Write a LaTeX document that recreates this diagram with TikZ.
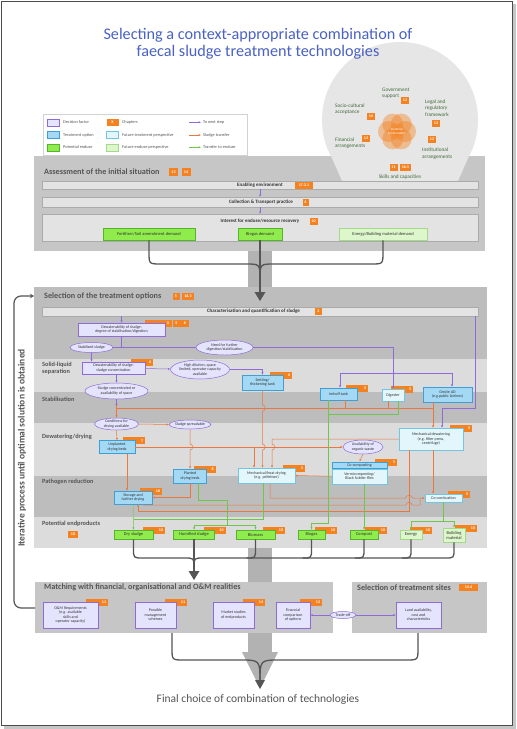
\documentclass[tikz,border=0pt]{standalone}
\usepackage{fontspec}
\setmainfont{Carlito}
\usetikzlibrary{calc,shapes.geometric,arrows.meta}
\pgfdeclarelayer{bg}\pgfdeclarelayer{tabs}
\pgfsetlayers{bg,tabs,main}
\definecolor{secc}{HTML}{C6C6C6}
\definecolor{bandl}{HTML}{DCDCDC}
\definecolor{bandd}{HTML}{BDBDBD}
\definecolor{barc}{HTML}{E3E3E3}
\definecolor{barb}{HTML}{ABABAB}
\definecolor{chapc}{HTML}{F58220}
\definecolor{lavf}{HTML}{E4E4FF}
\definecolor{purp}{HTML}{8E6BD6}
\definecolor{tof}{HTML}{A3D9F5}
\definecolor{tob}{HTML}{3C9FD6}
\definecolor{ftf}{HTML}{E2F6FB}
\definecolor{ftb}{HTML}{72C6E2}
\definecolor{euf}{HTML}{90EC4C}
\definecolor{eub}{HTML}{52B52C}
\definecolor{fef}{HTML}{DDF6CB}
\definecolor{feb}{HTML}{A4D88A}
\definecolor{orl}{HTML}{E9773F}
\definecolor{grl}{HTML}{70C64C}
\definecolor{titc}{HTML}{4A62C4}
\definecolor{txtc}{HTML}{333333}
\definecolor{grtx}{HTML}{3F6B38}
\definecolor{dkg}{HTML}{555555}
\definecolor{colc}{HTML}{B2B2B2}
\definecolor{circc}{HTML}{E6E6E6}
\tikzset{
 nbase/.style={font=\fontsize{4}{4.4}\selectfont, text=txtc, align=center, inner sep=0.5pt, line width=0.5pt, draw},
 dec/.style={nbase, fill=lavf, draw=purp},
 topt/.style={nbase, fill=tof, draw=tob},
 fut/.style={nbase, fill=ftf, draw=ftb},
 eu/.style={nbase, fill=euf, draw=eub},
 feu/.style={nbase, fill=fef, draw=feb},
 ep/.style={minimum height=9pt, font=\fontsize{4.5}{5}\selectfont},
 ellnode/.style={nbase, ellipse, fill=lavf, draw=purp, inner sep=0pt},
 chap/.style={fill=chapc, text=white, font=\fontsize{4}{4}\selectfont\bfseries, inner sep=0.6pt, minimum height=7pt, minimum width=8pt},
 ctab/.style={chap, anchor=north east, text width=18pt, align=right, inner xsep=2pt},
 barbox/.style={fill=barc, draw=barb, line width=0.3pt},
 bartx/.style={font=\fontsize{5}{5}\selectfont\bfseries, text=txtc, inner sep=0},
 secttitle/.style={font=\fontsize{8.2}{8.2}\selectfont\bfseries, text=dkg, anchor=west, inner sep=0},
 bandlab/.style={font=\fontsize{6.3}{7}\selectfont\bfseries, text=dkg, anchor=west, align=left, inner sep=0},
 clab/.style={font=\fontsize{5.3}{6.2}\selectfont, text=grtx, anchor=west, align=left, inner sep=0},
 lgt/.style={font=\fontsize{4.3}{4.3}\selectfont, text=dkg, anchor=west, inner sep=0},
 pl/.style={draw=purp, line width=0.5pt},
 ol/.style={draw=orl, line width=0.5pt},
 gl/.style={draw=grl, line width=0.5pt},
 tp/.style={-{Latex[length=2.3pt,width=2.2pt]}},
 bracel/.style={draw=dkg, line width=1.3pt},
}
\newcommand{\ctabat}[3][10]{\node[ctab] (#2-t) at ($(#2.north east)+(#1,-3)$) {#3};}
\begin{document}
\begin{tikzpicture}[x=1pt,y=-1pt]
\useasboundingbox (0,0) rectangle (517,729);
\begin{pgfonlayer}{bg}
 \fill[gray!45] (4,4) rectangle (516,728.5);
 \fill[white] (1.5,1.5) rectangle (512,725);
 \draw[gray!60!black, line width=0.8pt] (1.5,1.5) rectangle (512,725);
 \fill[circc] (400,120) circle[radius=78pt];
 \fill[secc] (34,156) rectangle (485,251);
 \fill[circc] (331,156) -- (469,156) -- (458,181) -- (342,181) -- cycle;
 \fill[colc] (248,251) rectangle (272,287);
 \fill[bandd] (34,287) rectangle (487,548);
 \fill[bandl] (34,359) rectangle (487,392);
 \fill[bandl] (34,423) rectangle (487,476);
 \fill[bandl] (34,517) rectangle (487,548);
 \fill[colc] (248,548) rectangle (272,582);
 \fill[secc] (35,582) rectangle (333,633);
 \fill[secc] (352,582) rectangle (487,633);
 \fill[colc] (248,633) rectangle (272,653);
 \fill[colc] (242,652) -- (278,652) -- (260,688) -- cycle;
\end{pgfonlayer}

% title
\node[font=\fontsize{16.2}{16.5}\selectfont, text=titc, align=center] (title) at (258,44) {Selecting a context-appropriate combination of\\faecal sludge treatment technologies};

% enabling environment circle
\foreach \a in {0,60,...,300} \fill[chapc, opacity=0.42] ($(397,131.5)+(\a:8.5pt)$) circle[radius=10.5pt];
\fill[chapc, opacity=0.3] (397,131.5) circle[radius=8pt];
\node[font=\fontsize{2.8}{3.2}\selectfont, text=white, align=center] (envtx) at (397,131.5) {ENABLING\\ENVIRONMENT};
\node[clab] (gov) at (382,93.5) {Government\\support};
\node[chap] (c12a) at (405,100) {12};
\node[clab] (legal) at (425,108) {Legal and\\regulatory\\framework};
\node[chap] (c12b) at (436,123) {12};
\node[clab] (socio) at (335,109) {Socio-cultural\\acceptance};
\node[chap] (c16) at (371,116) {16};
\node[clab] (fin) at (335,143.5) {Financial\\arrangements};
\node[chap] (c13a) at (366,138) {13};
\node[chap] (c12c) at (432,139) {12};
\node[clab] (inst) at (422,153.7) {Institutional\\arrangements};
\node[chap] (c11a) at (393.5,167) {11};
\node[chap, minimum width=11pt] (c165) at (405.5,167) {16.5};
\node[clab, anchor=center] (skills) at (400,177) {Skills and capacities};

% legend
\node[draw=gray!35, fill=white, line width=0.4pt, minimum width=204pt, minimum height=41pt] (legend) at (145,134.5) {};
\node[dec, minimum width=12pt, minimum height=7pt] (lg1) at (53,122.3) {};
\node[lgt] (lg1t) at (63,122.3) {Decision factor};
\node[topt, minimum width=12pt, minimum height=7pt] (lg2) at (53,135) {};
\node[lgt] (lg2t) at (63,135) {Treatment option};
\node[eu, minimum width=12pt, minimum height=7pt] (lg3) at (53,147.3) {};
\node[lgt] (lg3t) at (63,147.3) {Potential enduse};
\node[chap, minimum width=12pt] (lg4) at (112.5,122.3) {X};
\node[lgt] (lg4t) at (122,122.3) {Chapters};
\node[fut, minimum width=12pt, minimum height=7pt] (lg5) at (112.5,135) {};
\node[lgt] (lg5t) at (122,135) {Future treatment perspective};
\node[feu, minimum width=12pt, minimum height=7pt] (lg6) at (112.5,147.3) {};
\node[lgt] (lg6t) at (122,147.3) {Future enduse perspective};
\coordinate (la1) at (189,122.3); \coordinate (la1e) at (201,122.3);
\coordinate (la2) at (189,135); \coordinate (la2e) at (201,135);
\coordinate (la3) at (189,147.3); \coordinate (la3e) at (201,147.3);
\draw[pl,tp] (la1) -- (la1e); \node[lgt] (la1t) at (203,122.3) {To next step};
\draw[ol,tp] (la2) -- (la2e); \node[lgt] (la2t) at (203,135) {Sludge transfer};
\draw[gl,tp] (la3) -- (la3e); \node[lgt] (la3t) at (203,147.3) {Transfer to enduse};

% assessment
\node[secttitle] (asT) at (44,172) {Assessment of the initial situation};
\node[chap, minimum width=9pt, minimum height=7.5pt] (c13) at (173.5,172) {13};
\node[chap, minimum width=9pt, minimum height=7.5pt] (c14) at (186,172) {14};
\node[barbox, minimum width=436pt, minimum height=8.5pt] (enbar) at (260,185) {};
\node[bartx] (entx) at (260,185) {Enabling environment};
\node[chap, minimum width=18pt] (c1721) at (304,185) {17.2.1};
\node[barbox, minimum width=436pt, minimum height=10pt] (collbar) at (260,202) {};
\node[bartx] (colltx) at (261,202) {Collection \& Transport practice};
\node[chap, minimum width=6pt] (c4) at (305.5,202) {4};
\node[barbox, minimum width=436pt, minimum height=27pt] (intbar) at (260,227.5) {};
\node[bartx] (inttx) at (260,221) {Interest for enduse/resource recovery};
\node[chap] (c10a) at (313.5,221) {10};
\node[eu, minimum width=92pt, minimum height=12pt, font=\fontsize{4.5}{5}\selectfont] (fert) at (149,234) {Fertiliser/Soil amendment demand};
\node[eu, minimum width=44pt, minimum height=12pt, font=\fontsize{4.5}{5}\selectfont] (bgd) at (260,234) {Biogas demand};
\node[feu, minimum width=88pt, minimum height=12pt, font=\fontsize{4.5}{5}\selectfont] (ebd) at (383,234) {Energy/Building material demand};
\draw[pl,tp] (enbar.south) -- (collbar.north);
\draw[pl,tp] (collbar.south) -- (intbar.north);

% brace assessment -> selection
\draw[bracel] (fert.south) -- (149,252) .. controls (149,264) .. (161,264) -- (246,264) .. controls (260,264) .. (260,280);
\draw[bracel] (ebd.south) -- (383,252) .. controls (383,264) .. (371,264) -- (274,264) .. controls (260,264) .. (260,280);
\draw[bracel] (bgd.south) -- (260,294);
\coordinate (at1) at (260,301);
\fill[dkg] (254.5,292) -- (265.5,292) -- (at1) -- cycle;

% selection
\node[secttitle] (selT) at (44,296) {Selection of the treatment options};
\node[chap, minimum width=7pt] (c5s) at (176,296) {5};
\node[chap, minimum width=12pt] (c163) at (188,296) {16.3};
\node[barbox, minimum width=436pt, minimum height=9.5pt] (charbar) at (260,311.5) {};
\node[bartx] (chartx) at (253.5,311.5) {Characterisation and quantification of sludge};
\node[chap, minimum width=7pt] (c2) at (318.5,311.5) {2};
\node[bandlab] (bSL) at (42,368.5) {Solid-liquid\\separation};
\node[bandlab] (bST) at (42,399) {Stabilisation};
\node[bandlab] (bDW) at (42,437) {Dewatering/drying};
\node[bandlab] (bPR) at (42,482) {Pathogen reduction};
\node[bandlab] (bPE) at (42,524) {Potential endproducts};
\node[chap, minimum width=10pt] (c10pe) at (73,534) {10};

\node[dec, minimum width=87pt, minimum height=13pt] (dw1) at (121.5,329.5) {Dewaterability of sludge:\\degree of stabilisation/digestion};
\node[ellnode, minimum width=43pt, minimum height=10pt] (stab) at (91.5,347.5) {Stabilised sludge};
\node[ellnode, minimum width=57pt, minimum height=15pt] (need) at (224.5,347.5) {Need for further\\digestion/stabilisation};
\node[dec, minimum width=63pt, minimum height=12pt] (dw2) at (113.5,368) {Dewaterability of sludge:\\sludge concentration};
\node[ellnode, minimum width=54pt, minimum height=19pt] (hd) at (200,369.5) {High dilution, space\\limited, operator capacity\\available};
\node[topt, minimum width=41pt, minimum height=15pt] (settle) at (262.5,382.5) {Settling/\\thickening tank};
\node[ellnode, minimum width=63pt, minimum height=16pt] (sc) at (116.5,391) {Sludge concentrated or\\availability of space};
\node[topt, minimum width=37pt, minimum height=12pt] (imhoff) at (338.5,394) {Imhoff tank};
\node[fut, minimum width=22pt, minimum height=12pt] (digester) at (393,395) {Digester};
\node[topt, minimum width=49pt, minimum height=15pt] (onsite) at (447.5,394.5) {Onsite AD\\(e.g.public latrines)};
\node[ellnode, minimum width=44pt, minimum height=12pt] (cond) at (116.5,424) {Conditions for\\drying available};
\node[ellnode, minimum width=40pt, minimum height=9pt] (spread) at (190,424.5) {Sludge spreadable};
\node[topt, minimum width=36pt, minimum height=13pt] (unpl) at (117,447) {Unplanted\\drying beds};
\node[fut, minimum width=64pt, minimum height=22pt] (mechdw) at (431,439) {Mechanical dewatering\\(e.g. filter press,\\centrifuge)};
\node[ellnode, minimum width=40pt, minimum height=14pt] (avail) at (363,447) {Availability of\\organic waste};
\node[topt, minimum width=55pt, minimum height=6.5pt] (cocomp) at (359.5,465) {Co-composting};
\node[fut, minimum width=55pt, minimum height=15pt, anchor=north] (vermi) at (cocomp.south) {Vermicomposting/\\Black Soldier flies};
\node[fut, minimum width=57pt, minimum height=15pt] (mechheat) at (266.5,475.5) {Mechanical/heat drying\\(e.g. pelletiser)};
\node[topt, minimum width=33pt, minimum height=14pt] (planted) at (190,476) {Planted\\drying beds};
\node[topt, minimum width=38pt, minimum height=13pt] (storage) at (133,497.5) {Storage and\\further drying};
\node[fut, minimum width=37pt, minimum height=8pt] (cocomb) at (443.5,498) {Co-combustion};
\node[eu, ep, minimum width=39pt] (dry) at (133.5,534.5) {Dry sludge};
\node[eu, ep, minimum width=41pt] (hum) at (194,534.5) {Humified sludge};
\node[eu, ep, minimum width=39pt] (biom) at (255.5,534.5) {Biomass};
\node[eu, ep, minimum width=27pt] (biog) at (311.5,534.5) {Biogas};
\node[eu, ep, minimum width=28pt] (comp) at (364,534.5) {Compost};
\node[feu, ep, minimum width=22pt] (energy) at (411,534.5) {Energy};
\node[feu, ep, minimum width=22pt, minimum height=14pt] (build) at (454,535) {Building\\material};

% matching
\node[secttitle] (maT) at (44,587.5) {Matching with financial, organisational and O\&M realities};
\node[secttitle] (stT) at (357,587.5) {Selection of treatment sites};
\node[chap, minimum width=19pt] (c144) at (468.5,587.5) {14.4};
\node[dec, minimum width=55pt, minimum height=26pt] (om) at (70.5,615) {O\&M Requirements\\(e.g. available\\skills and\\operator capacity)};
\node[dec, minimum width=41pt, minimum height=26pt] (pms) at (155.5,615) {Possible\\management\\schemes};
\node[dec, minimum width=41pt, minimum height=26pt] (mst) at (233.5,615) {Market studies\\of endproducts};
\node[dec, minimum width=34pt, minimum height=26pt] (fc) at (293,615) {Financial\\comparison\\of options};
\node[dec, minimum width=45pt, minimum height=26pt] (land) at (418.5,615) {Land availability,\\cost and\\characteristics};
\node[ellnode, minimum width=26pt, minimum height=7pt] (tro) at (343,615) {Trade-off};
\draw[pl,tp] (tro.west) -- (fc.east);
\draw[pl,tp] (tro.east) -- (land.west);

% tabs
\begin{pgfonlayer}{tabs}
 \fill[chapc] (145,320) rectangle (164,327);
 \node[chap] (c3x) at (168,323.5) {3};
 \node[chap] (c5x) at (176.5,323.5) {5};
 \node[chap] (c6x) at (185,323.5) {6};
 \ctabat[8]{dw2}{6}
 \ctabat[9]{settle}{6}
 \ctabat[11]{imhoff}{5}
 \ctabat[9]{digester}{5}
 \ctabat[9]{mechdw}{5}
 \ctabat[10]{cocomp}{5}
 \ctabat[10]{mechheat}{5}
 \ctabat[9]{planted}{8}
 \ctabat[10]{storage}{10}
 \ctabat[10]{unpl}{7}
 \ctabat[8]{cocomb}{5}
 \ctabat[12]{dry}{10}
 \ctabat[11]{hum}{10}
 \ctabat[10]{biom}{10}
 \ctabat[12]{biog}{10}
 \ctabat[9]{comp}{10}
 \ctabat[10]{energy}{10}
 \ctabat[12]{build}{10}
 \ctabat[10]{om}{11}
 \ctabat[11]{pms}{11}
 \ctabat[11]{mst}{14}
 \ctabat[12]{fc}{13}
\end{pgfonlayer}

% purple connectors
\draw[pl,tp] (charbar.south -| dw1.north) -- (dw1.north);
\coordinate (jT) at (dw1.south |- stab.east);
\draw[pl] (dw1.south) -- (jT);
\draw[pl] (stab.east) -- (need.west);
\draw[pl,tp] (need.east) -| (digester.north);
\coordinate (jA) at (340,373); \coordinate (jB) at (452,373);
\draw[pl] (jA) -- (jB);
\draw[pl,tp] (jA) -- (jA |- imhoff.north);
\draw[pl,tp] (jB) -- (jB |- onsite.north);
\coordinate (jC) at (475,408); \coordinate (jD) at (442,408);
\draw[pl,tp] (charbar.south -| jC) -- (jC) -- (jD) -- (jD |- mechdw.north);
\draw[pl,tp] (stab.south) -- (stab.south |- dw2.north);
\draw[pl,tp] (dw2) -- (hd);
\draw[pl,tp] (hd.east) -| (settle.north);
\draw[pl,tp] (sc.north |- dw2.south) -- (sc.north);
\coordinate (jE) at (116.5,404.5);
\draw[pl] (sc.south) -- (jE);
\fill[purp] (jE) circle[radius=1.1pt];

% orange connectors
\draw[ol,tp] (jE) -- (cond.north);
\coordinate (jF) at (116.5,408); \coordinate (jG) at (433,408);
\draw[ol] (jF) -- (jG);
\draw[ol,tp] (jG) -- (jG |- mechdw.north);
\draw[ol] (onsite.south -| jG) -- (jG);
\coordinate (jH) at (345,408); \draw[ol] (imhoff.south -| jH) -- (jH);
\coordinate (jH2) at (388,408); \draw[ol] (digester.south -| jH2) -- (jH2);
\draw[ol,tp] (settle.south) -- (262.5,405) .. controls (266,405) and (266,411) .. (262.5,411) -- (262.5,444) .. controls (266,444) and (266,450) .. (262.5,450) -- (settle.south |- mechheat.north);
\draw[ol,tp] (cond.east) -- (spread.west);
\draw[ol,tp] (spread.south) -- (190,444) .. controls (193.5,444) and (193.5,450) .. (190,450) -- (planted.north);
\draw[ol,tp] (cond.south) -- (unpl.north);
\draw[ol,tp] (unpl.east) -- (avail.west);
\coordinate (j254) at (254,447);
\draw[ol,tp] (j254) -- (j254 |- mechheat.north);
\coordinate (j272) at (272,439);
\draw[ol,tp] (mechdw.west) -- (j272) -- (272,444) .. controls (275.5,444) and (275.5,450) .. (272,450) -- (j272 |- mechheat.north);
\coordinate (xJ) at (127,0);
\draw[ol,tp] (unpl.south -| xJ) -- (xJ |- storage.north);
\draw[ol,tp] (planted.south) |- (storage.east);
\draw[ol,tp] (vermi.west) -- (mechheat.east);
\draw[ol,tp] (avail.south) -- (cocomp.north);
\draw[ol,tp] ($(mechheat.south)+(3.5,0)$) -- (270,498) -- (405.5,498) .. controls (405.5,494.5) and (412.5,494.5) .. (412.5,498) -- (cocomb.west);
\coordinate (j409) at (409,511); \coordinate (j138) at (138,511);
\draw[ol,tp] (mechdw.south -| j409) -- (j409) -- (j138) -- (j138 |- storage.south);
\coordinate (j143) at (143,505); \coordinate (j420) at (420,505);
\draw[ol] (storage.south -| j143) -- (j143) -- (406,505) .. controls (406,501.5) and (412,501.5) .. (412,505) -- (j420) -- (420,498);
\coordinate (j433) at (433,0);
\draw[ol,tp] (mechdw.south -| j433) -- (j433 |- cocomb.north);

% green connectors
\coordinate (jI) at (328,414); \coordinate (jI2) at (398,414); \coordinate (jI3) at (328,523);
\draw[gl] (digester.south -| jI2) -- (jI2) -- (jI);
\draw[gl,tp] (imhoff.south -| jI) -- (jI3) -| (biog.north);
\draw[gl,tp] (storage.south) -- (dry.north);
\coordinate (yK) at (0,519);
\draw[gl] ($(mechheat.south)+(-3,0)$) |- (dry.north |- yK);
\coordinate (jL) at (227,525);
\draw[gl] ($(planted.south)+(8,0)$) |- ($(jL)+(0,-25)$) -- (jL);
\draw[gl,tp] (jL) -| (hum.north);
\draw[gl,tp] (jL) -| (biom.north);
\coordinate (jM) at (443.5,521);
\draw[gl] (cocomb.south) -- (jM);
\draw[gl,tp] (jM) -| (energy.north);
\draw[gl,tp] (jM) -| (build.north);
\draw[gl,tp] (comp.north |- vermi.south) -- (comp.north);

% brace endproducts -> matching
\draw[bracel] (dry.south) -- (133.5,549) .. controls (133.5,558) .. (143,558) -- (184,558) .. controls (194,558) .. (194,567);
\foreach \n in {biom,biog,comp,energy,build} {
 \draw[bracel] (\n.south) -- ($(\n.south |- yK)+(0,30)$) .. controls ($(\n.south |- yK)+(0,39)$) .. ($(\n.south |- yK)+(-9,39)$);
}
\draw[bracel] (445,558) -- (204,558) .. controls (194,558) .. (194,567);
\draw[bracel] (hum.south) -- (194,573);
\coordinate (at2) at (194,580);
\fill[dkg] (188.5,571) -- (199.5,571) -- (at2) -- cycle;

% brace matching -> final
\coordinate (mb1) at (172,633); \coordinate (mb2) at (418,633);
\draw[bracel] (mb1) -- (172,648) .. controls (172,660) .. (184,660) -- (240,660) .. controls (260,660) .. (260,682);
\draw[bracel] (mb2) -- (418,648) .. controls (418,660) .. (406,660) -- (280,660) .. controls (260,660) .. (260,682);
\coordinate (at3) at (260,689);
\fill[dkg] (255,680) -- (265,680) -- (at3) -- cycle;
\node[font=\fontsize{11.5}{12}\selectfont, text=dkg] (final) at (258,699) {Final choice of combination of technologies};

% iterative loop
\coordinate (maL) at (35,608); \coordinate (lpx) at (14,450); \coordinate (selL) at (34,296);
\draw[draw=dkg, line width=1.2pt, rounded corners=7pt, -{Stealth[length=4pt,width=4.5pt]}] (maL) -| (lpx) |- (selL);
\node[rotate=90, font=\fontsize{9.5}{10}\selectfont\bfseries, text=dkg] (iter) at (22,448) {Iterative process until optimal solution is obtained};
\end{tikzpicture}
\end{document}
